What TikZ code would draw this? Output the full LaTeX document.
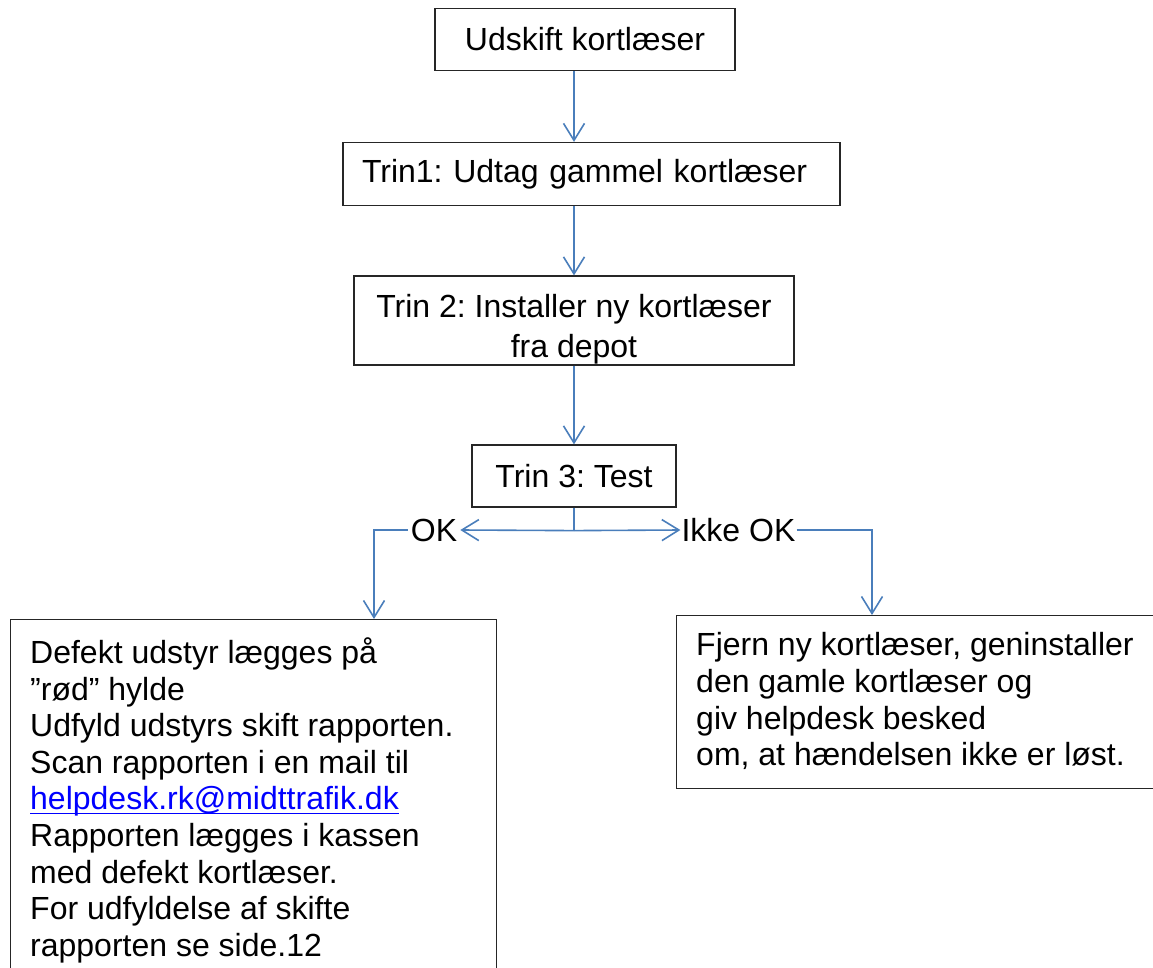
\documentclass[tikz,border=0pt]{standalone}
\usepackage{fontspec}
\setmainfont{Liberation Sans}
\usetikzlibrary{arrows.meta,calc}
\definecolor{arrowblue}{RGB}{74,126,187}
\definecolor{linkblue}{RGB}{0,0,255}
\newcommand\myuline[1]{\setbox0\hbox{#1}\rlap{\rule[-4.5pt]{\wd0}{1.6pt}}\box0}
\frenchspacing
\begin{document}
\frenchspacing
\begin{tikzpicture}[x=1pt,y=-1pt,
  every node/.style={font=\fontsize{32pt}{36.6pt}\selectfont\frenchspacing},
  box/.style={draw=black!85, line width=1.2pt, inner sep=0pt},
  txt/.style={inner sep=0pt, align=left},
  lbl/.style={inner ysep=0pt, inner xsep=2pt},
  conn/.style={draw=arrowblue, line width=1.6pt},
  arr/.style={conn, -{Straight Barb[length=17pt,width=21pt,line width=1.6pt]}}]
\useasboundingbox (0,0) rectangle (1153,968);
\clip (0,0) rectangle (1153,968);

\node[box, minimum width=300pt, minimum height=62pt] (b1) at (585,39.5) {Udskift kortlæser};
\node[box, minimum width=497pt, minimum height=63pt, text width=459pt, inner xsep=19pt, align=left] (b2) at (591.5,174) {Trin1: Udtag gammel kortlæser};
\node[box, minimum width=440pt, minimum height=89pt] (b3) at (574,320.5) {};
\begin{scope}
\clip (b3.south west) rectangle (b3.north east);
\node[inner sep=0pt, align=center, anchor=north, font=\fontsize{32pt}{40pt}\selectfont\frenchspacing] (b3t) at (574,294.5) {Trin 2: Installer ny kortlæser\\fra depot};
\end{scope}
\node[box, minimum width=204pt, minimum height=62pt] (b4) at (574,476) {Trin 3: Test};

\coordinate (split) at ($(b4.south)+(0,23)$);
\node[lbl, inner xsep=3pt] (ok) at (434,530) {OK};
\node[lbl, inner xsep=1pt] (ikke) at (738.5,530) {Ikke OK};

\node[box, anchor=north west, minimum width=486pt, minimum height=400pt] (lb) at (10,619) {};
\node[txt, anchor=north west] (lbt) at (30,637.5) {Defekt udstyr lægges på\\
”rød” hylde\\
Udfyld udstyrs skift rapporten.\\
Scan rapporten i en mail til\\
{\color{linkblue}\myuline{helpdesk.rk@midttrafik.dk}}\\
Rapporten lægges i kassen\\
med defekt kortlæser.\\
For udfyldelse af skifte\\
rapporten se side.12};

\node[box, anchor=north west, minimum width=500pt, minimum height=173pt] (rb) at (676,615) {};
\node[txt, anchor=north west] (rbt) at (696,632.5) {Fjern ny kortlæser, geninstaller\\
den gamle kortlæser og\\
giv helpdesk besked\\
om, at hændelsen ikke er løst.};

\coordinate (lin) at ($(lb.north west)+(364,0)$);
\coordinate (rin) at ($(rb.north west)+(196,0)$);

\draw[arr] (b1.south -| b4.north) -- (b2.north -| b4.north);
\draw[arr] (b2.south -| b3.north) -- (b3.north);
\draw[arr] (b3.south) -- (b4.north);
\draw[conn] (b4.south) -- (split);
\draw[arr] (split) -- (ok.east);
\draw[arr] (split) -- (ikke.west);
\draw[arr] (ok.west) -| (lin);
\draw[arr] (ikke.east) -| (rin);
\end{tikzpicture}
\end{document}
